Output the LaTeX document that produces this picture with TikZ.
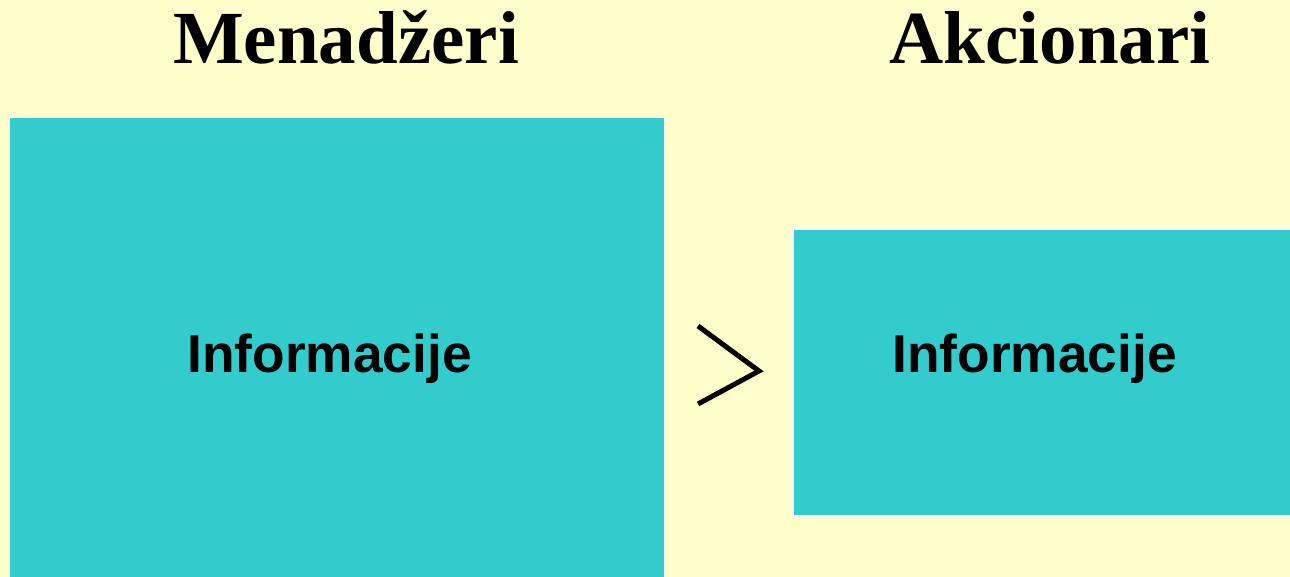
\documentclass[tikz,border=0pt]{standalone}
\usepackage{fontspec}
\setmainfont{Liberation Serif}
\newfontfamily\arialfont{Liberation Sans}
\definecolor{bgyellow}{HTML}{FFFFCC}
\definecolor{boxcyan}{HTML}{33CCCC}
\begin{document}
\begin{tikzpicture}[x=1pt,y=-1pt,
  infobox/.style={fill=boxcyan,draw=white,line width=1.5pt},
  titletext/.style={font=\fontsize{75}{80}\selectfont\bfseries,anchor=base,inner sep=0pt},
  infotext/.style={font=\arialfont\fontsize{53.3}{58}\selectfont\bfseries,anchor=base,inner sep=0pt},
  chevron/.style={draw=black,line width=5pt,line join=miter}]
\fill[bgyellow] (0,0) rectangle (1290,577);
\useasboundingbox (0,0) rectangle (1290,577);
\draw[infobox] (9.5,117.5) rectangle (664.5,580);
\draw[infobox] (793,229) rectangle (1295,516);
\node[titletext] (t1) at (346,64) {Menadžeri};
\node[titletext] (t2) at (1050,64) {Akcionari};
\node[infotext] (i1) at (329.5,372) {Informacije};
\node[infotext] (i2) at (1034.5,372) {Informacije};
\coordinate (c1) at (698,326);
\coordinate (c2) at (759,371);
\coordinate (c3) at (698,404);
\draw[chevron] (c1) -- (c2) -- (c3);
\end{tikzpicture}
\end{document}
